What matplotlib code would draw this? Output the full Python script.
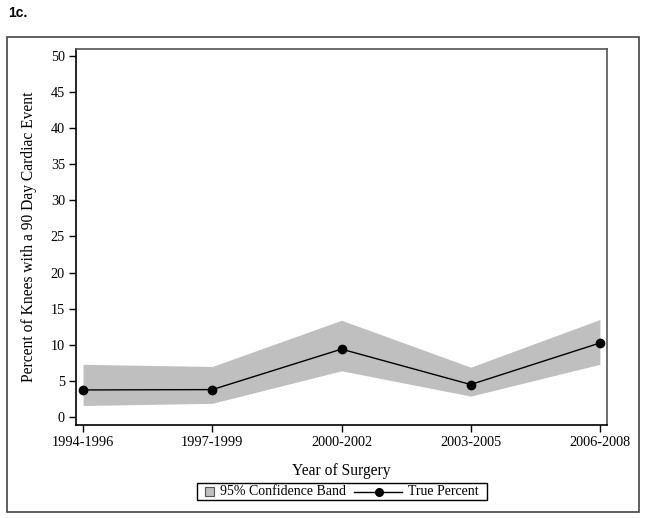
import matplotlib
matplotlib.use("Agg")
import matplotlib.pyplot as plt
from matplotlib.patches import Rectangle
from matplotlib.lines import Line2D

categories = ["1994-1996", "1997-1999", "2000-2002", "2003-2005", "2006-2008"]
true_percent = [3.75, 3.8, 9.4, 4.5, 10.25]
lower_ci = [1.6, 1.9, 6.4, 2.9, 7.3]
upper_ci = [7.3, 7.0, 13.4, 6.9, 13.5]
yticks = list(range(0, 51, 5))
legend_labels = ["95% Confidence Band", "True Percent"]

plt.rcParams['font.family'] = ['Liberation Serif', 'DejaVu Serif']

W, H = 645, 518
fig = plt.figure(figsize=(W / 100, H / 100), dpi=100)
ax = fig.add_axes([76 / W, 1 - 425 / H, (607 - 76) / W, (425 - 49.3) / H])

band_color = '#bfbfbf'
x = list(range(len(categories)))
ax.fill_between(x, lower_ci, upper_ci, color=band_color, linewidth=0)
ax.plot(x, true_percent, color='black', linewidth=1, marker='o', markersize=6)

ax.set_xlim(-0.055, len(categories) - 1 + 0.055)
ax.set_ylim(-1.1, 50.9)
ax.set_xticks(x)
ax.set_xticklabels(categories)
ax.set_yticks(yticks)
ax.tick_params(direction='out', length=5, width=1, labelsize=10.3, color='black', pad=3)
for s in ax.spines.values():
    s.set_linewidth(1.2)
    s.set_color('black')
ax.spines['top'].set_color('#555555')
ax.spines['right'].set_color('#555555')

ax.set_xlabel("Year of Surgery", fontsize=11.2, labelpad=10)
ax.set_ylabel("Percent of Knees with a 90 Day Cardiac Event", fontsize=11.2, labelpad=10)

# legend drawn in figure pixel coordinates
def fx(px):
    return px / W

def fy(py):
    return 1 - py / H

T = fig.transFigure
fig.patches.append(Rectangle((fx(197), fy(500)), (487 - 197) / W, 17 / H, transform=T,
                             fill=False, edgecolor='black', linewidth=1))
fig.patches.append(Rectangle((fx(205), fy(496)), 9 / W, 9 / H, transform=T,
                             facecolor=band_color, edgecolor='#555555', linewidth=0.8))
fig.text(fx(220), fy(491.5), legend_labels[0], fontsize=10, va='center', ha='left')
fig.lines.append(Line2D([fx(354), fx(402)], [fy(491.5), fy(491.5)], transform=T,
                        color='black', linewidth=1))
fig.lines.append(Line2D([fx(378.5)], [fy(491.5)], transform=T, color='black',
                        marker='o', markersize=5.5, linestyle='none'))
fig.text(fx(408), fy(491.5), legend_labels[1], fontsize=10, va='center', ha='left')

fig.patches.append(Rectangle((7 / W, 1 - 512 / H), 632 / W, 475 / H,
                             transform=T, fill=False,
                             edgecolor='#444444', linewidth=1.2))
fig.text(8 / W, 1 - 13 / H, "1c.", fontsize=10, fontweight='bold',
         family=['Liberation Sans', 'DejaVu Sans'], va='center', ha='left')

fig.savefig("out.png", dpi=100)
